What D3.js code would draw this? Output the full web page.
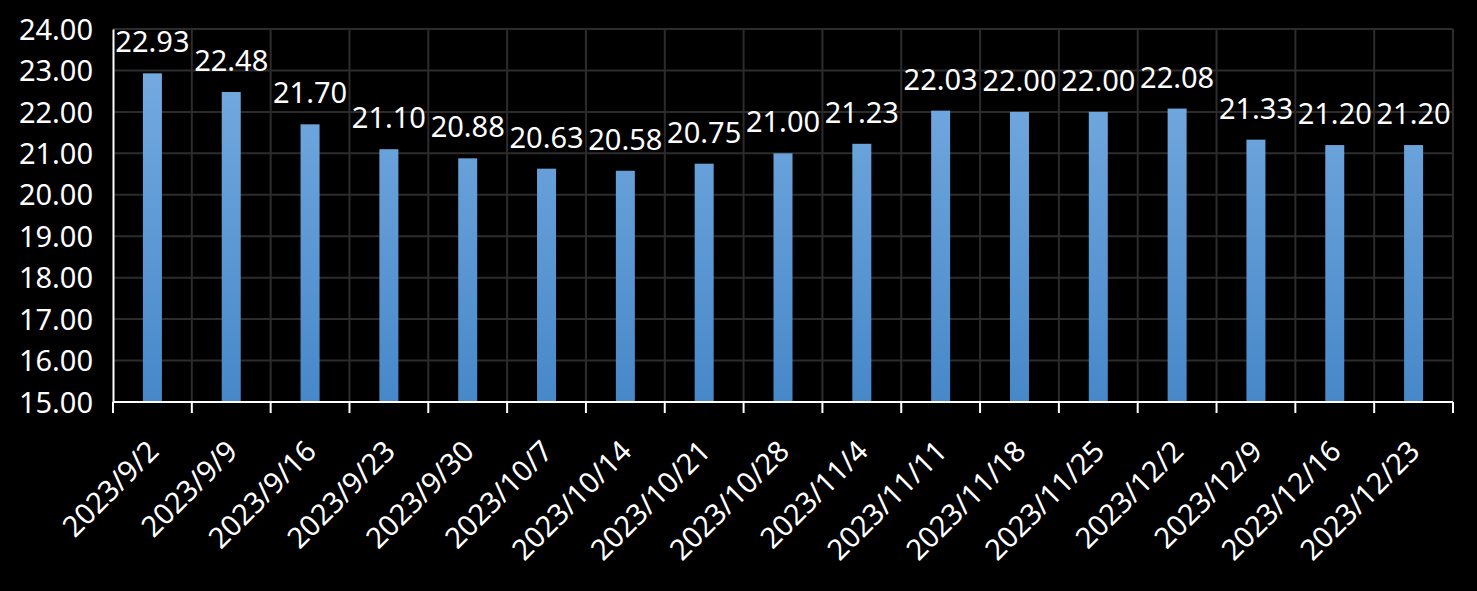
<!DOCTYPE html>
<html><head><meta charset="utf-8">
<script src="https://cdn.jsdelivr.net/npm/d3@7"></script>
<style>html,body{margin:0;padding:0;background:#000;}svg{display:block;}</style>
</head><body>
<svg id="c" width="1477" height="591"></svg>
<script>
const categories = ["2023/9/2","2023/9/9","2023/9/16","2023/9/23","2023/9/30","2023/10/7","2023/10/14","2023/10/21","2023/10/28","2023/11/4","2023/11/11","2023/11/18","2023/11/25","2023/12/2","2023/12/9","2023/12/16","2023/12/23"];
const values = [22.93,22.48,21.70,21.10,20.88,20.63,20.58,20.75,21.00,21.23,22.03,22.00,22.00,22.08,21.33,21.20,21.20];
const yTicks = [15,16,17,18,19,20,21,22,23,24];

const svg = d3.select("#c");
const m = {l:113, r:1453, t:29, b:402};
const font = "'Noto Sans', 'Open Sans', sans-serif";
const fs = 29;
const x = d3.scaleBand().domain(categories).range([m.l, m.r]).paddingInner(0).paddingOuter(0);
const y = d3.scaleLinear().domain([15,24]).range([m.b, m.t]);

const defs = svg.append("defs");
const g = defs.append("linearGradient").attr("id","bg")
  .attr("gradientUnits","userSpaceOnUse").attr("x1",0).attr("x2",0).attr("y1",m.t).attr("y2",m.b);
g.append("stop").attr("offset","0%").attr("stop-color","#7aaee2");
g.append("stop").attr("offset","100%").attr("stop-color","#4788c9");

// grid
svg.append("g").selectAll("line").data(yTicks.slice(1)).join("line")
  .attr("x1",m.l).attr("x2",m.r).attr("y1",d=>y(d)).attr("y2",d=>y(d))
  .attr("stroke","#2c2c2c").attr("stroke-width",2);
const bounds = categories.map(c=>x(c)).slice(1).concat([m.r]);
svg.append("g").selectAll("line").data(bounds).join("line")
  .attr("x1",d=>d).attr("x2",d=>d).attr("y1",m.t).attr("y2",m.b)
  .attr("stroke","#2c2c2c").attr("stroke-width",2);

// bars
const bw = 19;
svg.append("g").selectAll("rect").data(values).join("rect")
  .attr("x",(d,i)=>x(categories[i]) + x.bandwidth()/2 - bw/2)
  .attr("width",bw)
  .attr("y",d=>y(d)).attr("height",d=>y(15)-y(d))
  .attr("fill","url(#bg)");

// value labels
svg.append("g").selectAll("text").data(values).join("text")
  .attr("x",(d,i)=>x(categories[i]) + x.bandwidth()/2)
  .attr("y",d=>y(d)-21)
  .attr("text-anchor","middle")
  .attr("fill","#fff").attr("font-family",font).attr("font-size",fs)
  .text(d=>d.toFixed(2));

// y axis
const ya = svg.append("g").attr("transform",`translate(${m.l},0)`)
  .call(d3.axisLeft(y).tickValues(yTicks).tickSize(0).tickFormat(d=>d.toFixed(2)));
ya.select(".domain").attr("stroke","#fff").attr("stroke-width",2);
ya.selectAll("text").attr("fill","#fff").attr("font-family",font).attr("font-size",fs).attr("x",-20).attr("dy","0.35em");

// x axis
const xa = svg.append("g").attr("transform",`translate(0,${m.b})`)
  .call(d3.axisBottom(x).tickSize(0).tickFormat(""));
xa.select(".domain").attr("stroke","#fff").attr("stroke-width",2).attr("d",`M${m.l},0H${m.r}`);
svg.append("g").selectAll("line").data([m.l].concat(bounds)).join("line")
  .attr("x1",d=>d).attr("x2",d=>d).attr("y1",m.b).attr("y2",m.b+11)
  .attr("stroke","#fff").attr("stroke-width",2);

svg.append("g").selectAll("text").data(categories).join("text")
  .attr("transform",d=>`translate(${x(d)+x.bandwidth()/2+8},${m.b+51}) rotate(-45)`)
  .attr("text-anchor","end")
  .attr("fill","#fff").attr("font-family",font).attr("font-size",fs)
  .text(d=>d);
</script>
</body></html>
